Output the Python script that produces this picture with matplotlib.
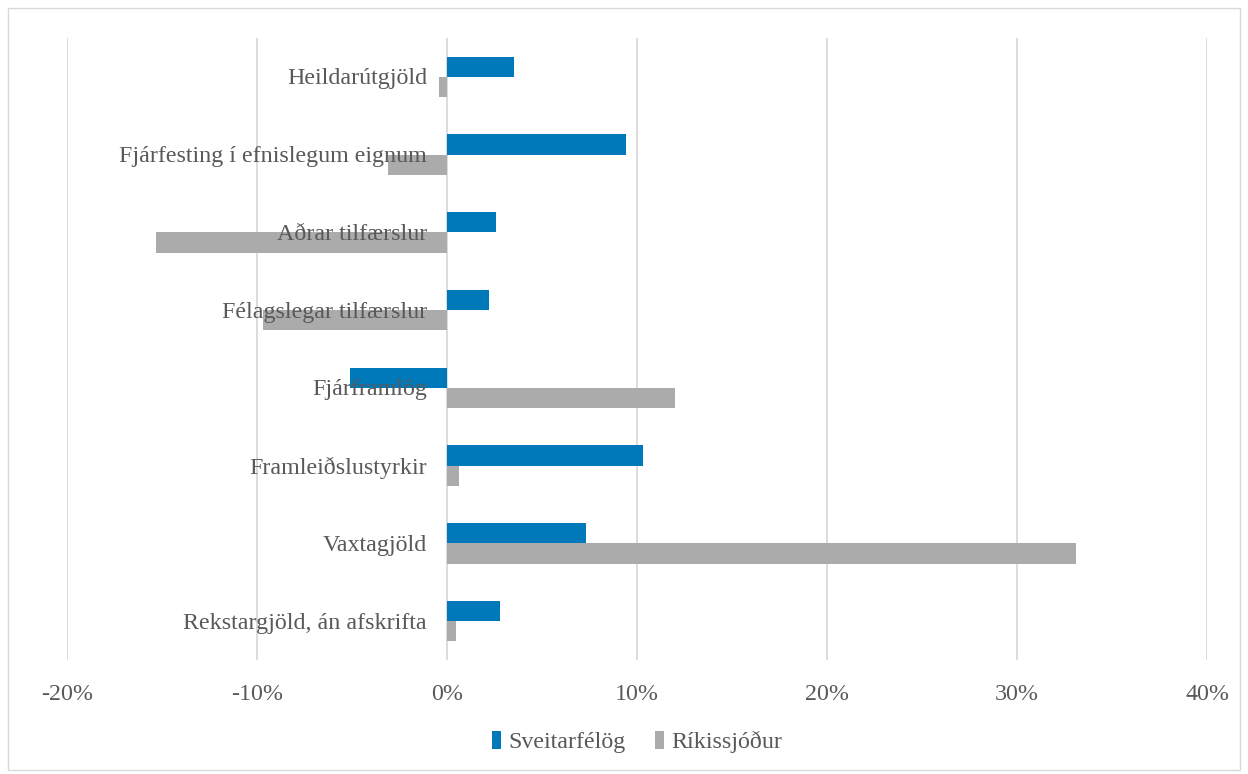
import numpy as np
import matplotlib.pyplot as plt
from matplotlib.patches import Rectangle
from matplotlib.transforms import blended_transform_factory, offset_copy

# categories, bottom to top
categories = ['Rekstargjöld, án afskrifta', 'Vaxtagjöld', 'Framleiðslustyrkir',
              'Fjárframlög', 'Félagslegar tilfærslur', 'Aðrar tilfærslur',
              'Fjárfesting í efnislegum eignum', 'Heildarútgjöld']
sveitarfelog = [2.8, 7.3, 10.3, -5.1, 2.2, 2.6, 9.4, 3.5]
rikissjodur = [0.45, 33.1, 0.65, 12.0, -9.7, -15.3, -3.1, -0.4]
xticks = [-20, -10, 0, 10, 20, 30, 40]

blue = '#0079BA'
grey = '#ABABAB'
txt = '#595959'
fs = 17.3

plt.rcParams['font.family'] = ['Liberation Serif', 'DejaVu Serif']

fig = plt.figure(figsize=(12.48, 7.74), dpi=100)
ax = fig.add_axes([67 / 1248, 1 - 660 / 774, 1140 / 1248, 622 / 774])

y = np.arange(len(categories))
h = 0.26
ax.barh(y + h / 2, sveitarfelog, height=h, color=blue, label='Sveitarfélög', zorder=3)
ax.barh(y - h / 2, rikissjodur, height=h, color=grey, label='Ríkissjóður', zorder=3)

ax.set_xlim(-20, 40)
ax.set_ylim(-0.5, len(categories) - 0.5)
ax.set_xticks(xticks)
ax.set_xticklabels([f'{v}%' for v in xticks], fontsize=fs, color=txt)
ax.tick_params(axis='x', length=0, pad=17)
ax.set_yticks([])
ax.grid(axis='x', color='#D9D9D9', linewidth=1.3, zorder=0)
for s in ax.spines.values():
    s.set_visible(False)

# category labels sit next to the zero line
tr = blended_transform_factory(ax.transData, ax.transData)
tr = offset_copy(tr, fig=fig, x=-20, y=-2, units='dots')
for yi, lab in zip(y, categories):
    ax.text(0, yi, lab, transform=tr, ha='right', va='center',
            fontsize=fs, color=txt, zorder=4)

fig.legend(loc='center', bbox_to_anchor=(637 / 1248, 1 - 742 / 774), ncol=2,
           frameon=False, fontsize=fs, labelcolor=txt, handlelength=0.4,
           handleheight=0.8, handletextpad=0.3, columnspacing=1.2)

fig.patches.append(Rectangle((8 / 1248, 4 / 774), 1232 / 1248, 762 / 774,
                             transform=fig.transFigure, fill=False,
                             edgecolor='#D9D9D9', linewidth=1))

fig.savefig('out.png', dpi=100)
